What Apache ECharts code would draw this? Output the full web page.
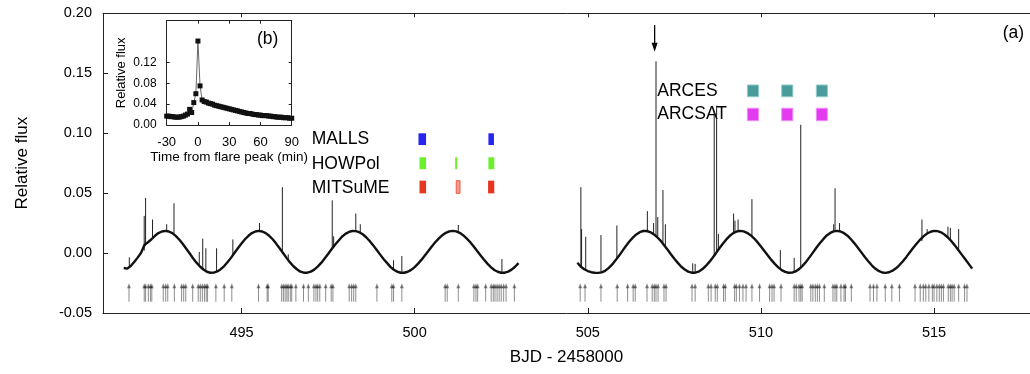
<!DOCTYPE html>
<html><head><meta charset="utf-8">
<script src="https://cdn.jsdelivr.net/npm/echarts@6/dist/echarts.min.js"></script>
<style>html,body{margin:0;padding:0;background:#fff}#c{width:1030px;height:374px}</style>
</head><body><div id="c"></div>
<script>
// ---------------- data ----------------
const seg1T0 = 491.6, seg2T0 = 504.7, segDt = 0.1;
const seg1Flux = [
 -0.0125,-0.0130,-0.0108,-0.0075,-0.0038, 0.0002, 0.0070, 0.0090, 0.0115, 0.0144,
  0.0167, 0.0180, 0.0185, 0.0180, 0.0166, 0.0143, 0.0113, 0.0078, 0.0038,-0.0002,
 -0.0043,-0.0080,-0.0112,-0.0137,-0.0156,-0.0164,-0.0163,-0.0153,-0.0135,-0.0108,
 -0.0075,-0.0038, 0.0002, 0.0042, 0.0080, 0.0115, 0.0144, 0.0167, 0.0180, 0.0185,
  0.0180, 0.0166, 0.0144, 0.0115, 0.0079, 0.0040, 0.0000,-0.0040,-0.0078,-0.0110,
 -0.0135,-0.0155,-0.0164,-0.0164,-0.0155,-0.0138,-0.0113,-0.0082,-0.0046,-0.0008,
  0.0032, 0.0070, 0.0103, 0.0136, 0.0160, 0.0176, 0.0184, 0.0183, 0.0174, 0.0157,
  0.0132, 0.0101, 0.0066, 0.0028,-0.0011,-0.0049,-0.0082,-0.0115,-0.0139,-0.0156,
 -0.0164,-0.0164,-0.0156,-0.0140,-0.0117,-0.0088,-0.0055,-0.0018, 0.0019, 0.0057,
  0.0092, 0.0123, 0.0149, 0.0169, 0.0181, 0.0185, 0.0181, 0.0169, 0.0149, 0.0123,
  0.0092, 0.0057, 0.0019,-0.0018,-0.0054,-0.0088,-0.0117,-0.0141,-0.0156,-0.0164,
 -0.0164,-0.0155,-0.0138,-0.0114,-0.0084
];
const seg2Flux = [
 -0.0080,-0.0115,-0.0135,-0.0150,-0.0160,-0.0164,-0.0165,-0.0161,-0.0148,-0.0126,
 -0.0097,-0.0061,-0.0023, 0.0018, 0.0059, 0.0096, 0.0129, 0.0155, 0.0174, 0.0184,
  0.0184, 0.0175, 0.0158, 0.0134, 0.0104, 0.0068, 0.0030,-0.0010,-0.0048,-0.0082,
 -0.0114,-0.0137,-0.0155,-0.0164,-0.0164,-0.0155,-0.0136,-0.0110,-0.0078,-0.0041,
 -0.0001, 0.0040, 0.0078, 0.0114, 0.0144, 0.0166, 0.0180, 0.0185, 0.0181, 0.0169,
  0.0149, 0.0123, 0.0091, 0.0055, 0.0018,-0.0020,-0.0057,-0.0090,-0.0119,-0.0142,
 -0.0157,-0.0164,-0.0163,-0.0153,-0.0134,-0.0107,-0.0074,-0.0036, 0.0004, 0.0044,
  0.0082, 0.0116, 0.0147, 0.0168, 0.0181, 0.0185, 0.0180, 0.0166, 0.0145, 0.0115,
  0.0081, 0.0045, 0.0006,-0.0033,-0.0069,-0.0102,-0.0129,-0.0149,-0.0162,-0.0165,
 -0.0160,-0.0147,-0.0127,-0.0100,-0.0068,-0.0032, 0.0006, 0.0044, 0.0080, 0.0113,
  0.0141, 0.0163, 0.0178, 0.0185, 0.0183, 0.0173, 0.0155, 0.0130, 0.0099, 0.0064,
  0.0025,-0.0013,-0.0051,-0.0090,-0.0130
];
// flares: [time, base flux, peak flux]
const flares = [
 [491.76,-0.0125,-0.0036],[492.19,0.002,0.031],[492.23,0.006,0.046],[492.43,0.012,0.028],
 [492.84,0.018,0.024],[493.05,0.016,0.0415],[493.78,-0.011,0.001],[493.88,-0.013,0.012],
 [493.97,-0.015,0.004],[494.28,-0.015,0.004],[494.75,-0.002,0.0114],[495.52,0.018,0.025],
 [496.18,0.001,0.055],[496.35,-0.006,-0.001],[497.62,0.004,0.044],[497.66,0.006,0.014],
 [498.30,0.018,0.033],[498.43,0.017,0.024],[499.39,-0.014,-0.006],[499.63,-0.016,-0.0025],
 [501.26,0.017,0.0234],[502.52,-0.016,-0.005],
 [504.80,-0.011,0.055],[504.82,-0.012,0.020],[504.94,-0.014,0.0136],[505.38,-0.016,0.015],
 [505.84,-0.005,0.023],[506.72,0.018,0.035],[506.90,0.016,0.025],[506.97,0.015,0.160],
 [507.02,0.014,0.030],[507.17,0.009,0.0526],[507.24,0.005,0.024],[508.03,-0.016,-0.0086],
 [508.10,-0.016,-0.009],[508.65,-0.002,0.118],[508.72,0.000,0.123],[508.77,0.003,0.016],
 [509.21,0.016,0.033],[509.25,0.017,0.027],[509.34,0.018,0.028],[509.74,0.014,0.045],
 [510.56,-0.013,0.0025],[510.96,-0.016,-0.004],[511.15,-0.013,0.107],[512.10,0.018,0.024],
 [512.14,0.018,0.054],[512.27,0.018,0.025],[514.65,0.010,0.028],[514.80,0.016,0.020],
 [515.40,0.013,0.022],[515.47,0.011,0.021],[515.71,0.003,0.020]
];
// detected flare times (arrow row)
const flareTimes1 = [
 491.75,492.19,492.23,492.31,492.37,492.41,492.74,492.81,492.87,493.06,493.27,493.33,493.39,
 493.59,493.75,493.81,493.87,493.93,493.98,494.02,494.26,494.50,494.72,495.49,495.74,495.77,
 496.16,496.21,496.26,496.31,496.35,496.41,496.45,496.57,496.79,496.93,497.09,497.15,497.20,
 497.26,497.43,497.59,497.64,498.11,498.18,498.24,498.30,498.91,499.34,499.39,499.63,500.88,
 500.94,501.26,501.71,501.77,501.82,502.05,502.21,502.27,502.32,502.38,502.44,502.50,502.57,
 502.64,502.88
];
const flareTimes2 = [
 504.78,504.92,505.38,505.85,506.15,506.31,506.37,506.71,506.86,506.92,506.97,507.03,507.20,
 507.26,508.01,508.10,508.48,508.56,508.68,508.74,508.92,508.97,509.24,509.29,509.38,509.48,
 509.57,509.74,509.96,510.25,510.32,510.38,510.58,510.96,511.02,511.10,511.15,511.19,511.44,
 511.50,511.57,511.63,511.69,511.83,512.08,512.14,512.19,512.31,512.40,512.44,512.61,513.15,
 513.25,513.35,513.59,513.78,514.00,514.45,514.60,514.69,514.76,514.85,514.95,515.00,515.08,
 515.15,515.21,515.27,515.41,515.47,515.52,515.58,515.71,515.88,515.95
];
const markedFlare = [506.93];
// observing windows [start, end] (BJD-2458000)
const mallsWin   = [[500.11,500.33],[502.13,502.29]];
const howpolWin  = [[500.14,500.33],[501.17,501.23],[502.13,502.30]];
const mitsumeWin = [[500.14,500.33],[502.12,502.30]];
const mitsumeWinPartial = [[501.20,501.31]];
const arcesWin   = [[509.61,509.93],[510.60,510.92],[511.60,511.92]];
const arcsatWin  = [[509.61,509.93],[510.60,510.92],[511.60,511.92]];
// inset (b)
const insetTime = [-30,-28,-26,-24,-22,-20,-18,-16,-14,-12,-10,-8,-6,-4,-2,0,2,4,6,8,10,12,14,16,18,20,
 22,24,26,28,30,32,34,36,38,40,42,44,46,48,50,52,54,56,58,60,62,64,66,68,70,72,74,76,78,80,82,84,86,88,90];
const insetFlux = [0.017,0.017,0.016,0.016,0.015,0.015,0.015,0.016,0.017,0.019,0.021,0.030,0.024,0.043,0.060,0.161,
 0.075,0.048,0.045,0.044,0.042,0.041,0.040,0.038,0.037,0.036,0.035,0.034,0.033,0.032,0.031,0.030,0.029,0.028,
 0.027,0.026,0.025,0.024,0.023,0.022,0.022,0.021,0.020,0.020,0.019,0.019,0.018,0.018,0.018,0.017,0.017,0.016,
 0.016,0.015,0.015,0.015,0.014,0.014,0.014,0.013,0.013];
const xTicksMain = [495,500,505,510,515];
const insetYTicks = [0,0.04,0.08,0.12];

// ---------------- layout / style ----------------
const FONT = '"Liberation Sans", Arial, Helvetica, sans-serif';
const ARROW_TIP = -0.0252, ARROW_BASE = -0.0406;
const BIG_ARROW_TOP = 0.1902, BIG_ARROW_TIP = 0.168;
const ROWS = { malls:[0.0999,0.0901], howpol:[0.0799,0.0699], mitsume:[0.0604,0.0498],
               arces:[0.1402,0.1304], arcsat:[0.1208,0.1104] };

const chart = echarts.init(document.getElementById('c'), null, {renderer:'canvas'});
const toPts = (t0, arr) => arr.map((v,i)=>[+(t0 + i*segDt).toFixed(2), v]);

function barSeries(win, row, fill, stroke){
  return {type:'custom', coordinateSystem:'cartesian2d', xAxisIndex:0, yAxisIndex:0, clip:false, z:5,
    data: win, encode:{x:[0,1]},
    renderItem:(p, api)=>{
      const a = api.coord([api.value(0), row[0]]);
      const b = api.coord([api.value(1), row[1]]);
      return {type:'rect', shape:{x:a[0], y:a[1], width:Math.max(b[0]-a[0],1.5), height:b[1]-a[1]},
        style:{fill:fill, stroke:stroke||null, lineWidth:stroke?1:0}};
    }};
}
function arrowSeries(times){
  return {type:'custom', coordinateSystem:'cartesian2d', xAxisIndex:0, yAxisIndex:0, clip:false, z:3,
    data: times.map(t=>[t]), encode:{x:0},
    renderItem:(p, api)=>{
      const t = api.value(0);
      const tip = api.coord([t, ARROW_TIP]), base = api.coord([t, ARROW_BASE]);
      const c = 'rgba(0,0,0,0.45)';
      return {type:'group', children:[
        {type:'line', shape:{x1:base[0], y1:base[1], x2:tip[0], y2:tip[1]+3}, style:{stroke:c, lineWidth:1}},
        {type:'polygon', shape:{points:[[tip[0],tip[1]],[tip[0]-2,tip[1]+5],[tip[0]+2,tip[1]+5]]}, style:{fill:c}}
      ]};
    }};
}

const axisLineStyle = {color:'#222', width:1};
const option = {
  animation:false,
  backgroundColor:'#fff',
  textStyle:{fontFamily:FONT},
  grid:[
    {left:103, top:13.3, right:0, height:299.7},
    {left:166.7, top:20.7, width:125, height:104.3}
  ],
  xAxis:[
    {gridIndex:0, type:'value', min:491, max:517.77, position:'bottom',
     axisLine:{show:true, onZero:false, lineStyle:axisLineStyle},
     axisTick:{show:true, inside:true, length:5, customValues:xTicksMain, lineStyle:axisLineStyle},
     axisLabel:{show:true, customValues:xTicksMain, fontSize:14.5, color:'#000', margin:12, fontFamily:FONT},
     splitLine:{show:false},
     name:'BJD - 2458000', nameLocation:'middle', nameGap:36,
     nameTextStyle:{fontSize:17, color:'#000', fontFamily:FONT}},
    {gridIndex:0, type:'value', min:491, max:517.77, position:'top',
     axisLine:{show:true, onZero:false, lineStyle:axisLineStyle},
     axisTick:{show:true, inside:true, length:4, customValues:xTicksMain, lineStyle:axisLineStyle},
     axisLabel:{show:false}, splitLine:{show:false}},
    {gridIndex:1, type:'value', min:-30, max:90, interval:30, position:'bottom',
     axisLine:{show:true, onZero:false, lineStyle:axisLineStyle},
     axisTick:{show:true, inside:true, length:3, lineStyle:axisLineStyle},
     axisLabel:{fontSize:13, color:'#000', margin:11, fontFamily:FONT},
     splitLine:{show:false},
     name:'Time from flare peak (min)', nameLocation:'middle', nameGap:25,
     nameTextStyle:{fontSize:13.5, color:'#000', fontFamily:FONT}},
    {gridIndex:1, type:'value', min:-30, max:90, interval:30, position:'top',
     axisLine:{show:true, onZero:false, lineStyle:axisLineStyle},
     axisTick:{show:true, inside:true, length:3, lineStyle:axisLineStyle},
     axisLabel:{show:false}, splitLine:{show:false}}
  ],
  yAxis:[
    {gridIndex:0, type:'value', min:-0.05, max:0.2, interval:0.05,
     axisLine:{show:true, onZero:false, lineStyle:axisLineStyle},
     axisTick:{show:true, inside:true, length:5, lineStyle:axisLineStyle},
     axisLabel:{fontSize:14.5, color:'#000', margin:11, fontFamily:FONT, formatter:v=>v.toFixed(2)},
     splitLine:{show:false},
     name:'Relative flux', nameLocation:'middle', nameGap:72, nameRotate:90,
     nameTextStyle:{fontSize:17, color:'#000', fontFamily:FONT}},
    {gridIndex:1, type:'value', min:0, max:0.2,
     axisLine:{show:true, onZero:false, lineStyle:axisLineStyle},
     axisTick:{show:true, inside:true, length:3, customValues:insetYTicks, lineStyle:axisLineStyle},
     axisLabel:{customValues:insetYTicks, fontSize:12, color:'#000', margin:10, fontFamily:FONT, formatter:v=>v.toFixed(2)},
     splitLine:{show:false},
     name:'Relative flux', nameLocation:'middle', nameGap:39, nameRotate:90,
     nameTextStyle:{fontSize:13, color:'#000', fontFamily:FONT}},
    {gridIndex:1, type:'value', min:0, max:0.2, position:'right',
     axisLine:{show:true, onZero:false, lineStyle:axisLineStyle},
     axisTick:{show:true, inside:true, length:3, customValues:insetYTicks, lineStyle:axisLineStyle},
     axisLabel:{show:false}, splitLine:{show:false}}
  ],
  series:[
    {type:'line', xAxisIndex:0, yAxisIndex:0, data:toPts(seg1T0, seg1Flux), showSymbol:false, z:4,
     lineStyle:{color:'#111', width:2.4}},
    {type:'line', xAxisIndex:0, yAxisIndex:0, data:toPts(seg2T0, seg2Flux), showSymbol:false, z:4,
     lineStyle:{color:'#111', width:2.4}},
    {type:'custom', coordinateSystem:'cartesian2d', xAxisIndex:0, yAxisIndex:0, z:4, clip:false,
     data:flares, encode:{x:0, y:[1,2]},
     renderItem:(p, api)=>{
       const a = api.coord([api.value(0), api.value(1)]), b = api.coord([api.value(0), api.value(2)]);
       return {type:'line', shape:{x1:a[0], y1:a[1], x2:b[0], y2:b[1]}, style:{stroke:'#222', lineWidth:1}};
     }},
    arrowSeries(flareTimes1),
    arrowSeries(flareTimes2),
    {type:'custom', coordinateSystem:'cartesian2d', xAxisIndex:0, yAxisIndex:0, z:6, clip:false,
     data:markedFlare.map(t=>[t]), encode:{x:0},
     renderItem:(p, api)=>{
       const t = api.value(0);
       const a = api.coord([t, BIG_ARROW_TOP]), b = api.coord([t, BIG_ARROW_TIP]);
       return {type:'group', children:[
         {type:'line', shape:{x1:a[0], y1:a[1], x2:b[0], y2:b[1]-6}, style:{stroke:'#000', lineWidth:1.3}},
         {type:'polygon', shape:{points:[[b[0],b[1]],[b[0]-3,b[1]-9],[b[0]+3,b[1]-9]]}, style:{fill:'#000'}}
       ]};
     }},
    barSeries(mallsWin, ROWS.malls, '#2626ee'),
    barSeries(howpolWin, ROWS.howpol, '#6cf02c'),
    barSeries(mitsumeWin, ROWS.mitsume, '#e5361f'),
    barSeries(mitsumeWinPartial, ROWS.mitsume, '#f49b8c', '#ec5a45'),
    barSeries(arcesWin, ROWS.arces, '#4a9c9c', '#8fcaca'),
    barSeries(arcsatWin, ROWS.arcsat, '#e33bf0', '#f08cf6'),
    {type:'line', xAxisIndex:2, yAxisIndex:1, data:insetTime.map((t,i)=>[t, insetFlux[i]]),
     symbol:'rect', symbolSize:5, showSymbol:true, z:4,
     itemStyle:{color:'#111'}, lineStyle:{color:'#444', width:0.8}}
  ],
  graphic:[
    {type:'text', left:311.7, top:130, style:{text:'MALLS', font:'17.5px '+FONT, fill:'#000'}},
    {type:'text', left:311.7, top:155, style:{text:'HOWPol', font:'17.5px '+FONT, fill:'#000'}},
    {type:'text', left:311.7, top:179, style:{text:'MITSuME', font:'17.5px '+FONT, fill:'#000'}},
    {type:'text', left:657.3, top:82, style:{text:'ARCES', font:'17.5px '+FONT, fill:'#000'}},
    {type:'text', left:657.3, top:105, style:{text:'ARCSAT', font:'17.5px '+FONT, fill:'#000'}},
    {type:'text', left:1002.7, top:24, style:{text:'(a)', font:'17.5px '+FONT, fill:'#000'}},
    {type:'text', left:257, top:30, style:{text:'(b)', font:'17.5px '+FONT, fill:'#000'}}
  ]
};
chart.setOption(option);
</script></body></html>
